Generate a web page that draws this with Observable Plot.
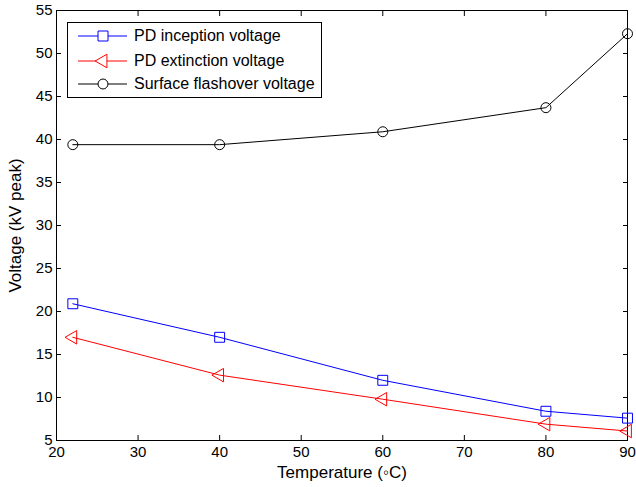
<!DOCTYPE html>
<html>
<head>
<meta charset="utf-8">
<script src="https://cdn.jsdelivr.net/npm/d3@7"></script>
<script src="https://cdn.jsdelivr.net/npm/@observablehq/plot@0.6"></script>
<style>
  body { margin: 0; background: #fff; font-family: "Liberation Sans", Arial, sans-serif; }
  #wrap { position: relative; width: 636px; height: 487px; }
  #legend { position: absolute; left: 67px; top: 22px; width: 255px; height: 76px; border: 1px solid #000; background: #fff; box-sizing: border-box; font-size: 16px; }
  .row { position: absolute; left: 0; height: 20px; display: flex; align-items: center; }
  .row svg { display: block; }
  .row span { margin-left: 7px; white-space: nowrap; }
</style>
</head>
<body>
<div id="wrap"></div>
<script>
const temps = [22, 40, 60, 80, 90];
const inception = [20.9, 17.0, 12.0, 8.4, 7.6];
const extinction = [17.0, 12.6, 9.8, 6.9, 6.1];
const flashover = [39.4, 39.4, 40.9, 43.7, 52.3];
const seriesNames = ["PD inception voltage", "PD extinction voltage", "Surface flashover voltage"];
const seriesColors = ["#0000ff", "#ff0000", "#000000"];
const xTicks = [20, 30, 40, 50, 60, 70, 80, 90];
const yTicks = [5, 10, 15, 20, 25, 30, 35, 40, 45, 50, 55];

const rows = (vals) => temps.map((t, i) => ({t, v: vals[i]}));
const inc = rows(inception), ext = rows(extinction), fla = rows(flashover);

const font = "Liberation Sans, Arial, sans-serif";
const chart = Plot.plot({
  width: 636,
  height: 487,
  marginLeft: 56,
  marginRight: 9,
  marginTop: 10,
  marginBottom: 47,
  style: {fontFamily: font, fontSize: "15px", color: "#000", background: "#fff"},
  x: {domain: [20, 90], label: null},
  y: {domain: [5, 55], label: null},
  marks: [
    Plot.axisX(xTicks, {anchor: "bottom", tickSize: -5, tickPadding: 11, label: null, fontSize: 15}),
    Plot.axisX(xTicks, {anchor: "top", tickSize: -5, tickFormat: () => "", label: null}),
    Plot.axisY(yTicks, {anchor: "left", tickSize: -5, tickPadding: 9, label: null, fontSize: 15}),
    Plot.axisY(yTicks, {anchor: "right", tickSize: -5, tickFormat: () => "", label: null}),
    Plot.frame({stroke: "#000", strokeWidth: 1}),
    Plot.line(inc, {x: "t", y: "v", stroke: seriesColors[0], strokeWidth: 1}),
    Plot.line(ext, {x: "t", y: "v", stroke: seriesColors[1], strokeWidth: 1}),
    Plot.line(fla, {x: "t", y: "v", stroke: seriesColors[2], strokeWidth: 1}),
    Plot.dot(inc, {x: "t", y: "v", symbol: "square", r: 5.6, stroke: seriesColors[0], fill: "none", strokeWidth: 1}),
    Plot.dot(ext, {x: "t", y: "v", symbol: "triangle", rotate: -90, r: 5, stroke: seriesColors[1], fill: "none", strokeWidth: 1}),
    Plot.dot(fla, {x: "t", y: "v", symbol: "circle", r: 5, stroke: seriesColors[2], fill: "none", strokeWidth: 1}),
    Plot.text(["Temperature (\u25E6C)"], {frameAnchor: "bottom", dy: 37, fontSize: 17, textAnchor: "middle"}),
    Plot.text(["Voltage (kV peak)"], {frameAnchor: "left", dx: -41, rotate: -90, fontSize: 17, textAnchor: "middle", lineAnchor: "middle"})
  ]
});
const wrap = document.getElementById("wrap");
wrap.appendChild(chart);

// legend
const legend = document.createElement("div");
legend.id = "legend";
const symbols = ["square", "triangle", "circle"];
seriesNames.forEach((name, i) => {
  const row = document.createElement("div");
  row.className = "row";
  row.style.top = [3, 28, 51][i] + "px";
  const svg = d3.create("svg").attr("width", 59).attr("height", 20);
  svg.append("line").attr("x1", 10).attr("x2", 59).attr("y1", 10).attr("y2", 10).attr("stroke", seriesColors[i]);
  let sym;
  if (symbols[i] === "square") sym = d3.symbol(d3.symbolSquare, 100)();
  else if (symbols[i] === "triangle") sym = d3.symbol(d3.symbolTriangle, 80)();
  else sym = d3.symbol(d3.symbolCircle, 78)();
  svg.append("path").attr("d", sym).attr("transform", `translate(35,10) rotate(${symbols[i] === "triangle" ? -90 : 0})`)
    .attr("fill", "#fff").attr("stroke", seriesColors[i]);
  row.appendChild(svg.node());
  const span = document.createElement("span");
  span.textContent = name;
  row.appendChild(span);
  legend.appendChild(row);
});
wrap.appendChild(legend);
</script>
</body>
</html>
